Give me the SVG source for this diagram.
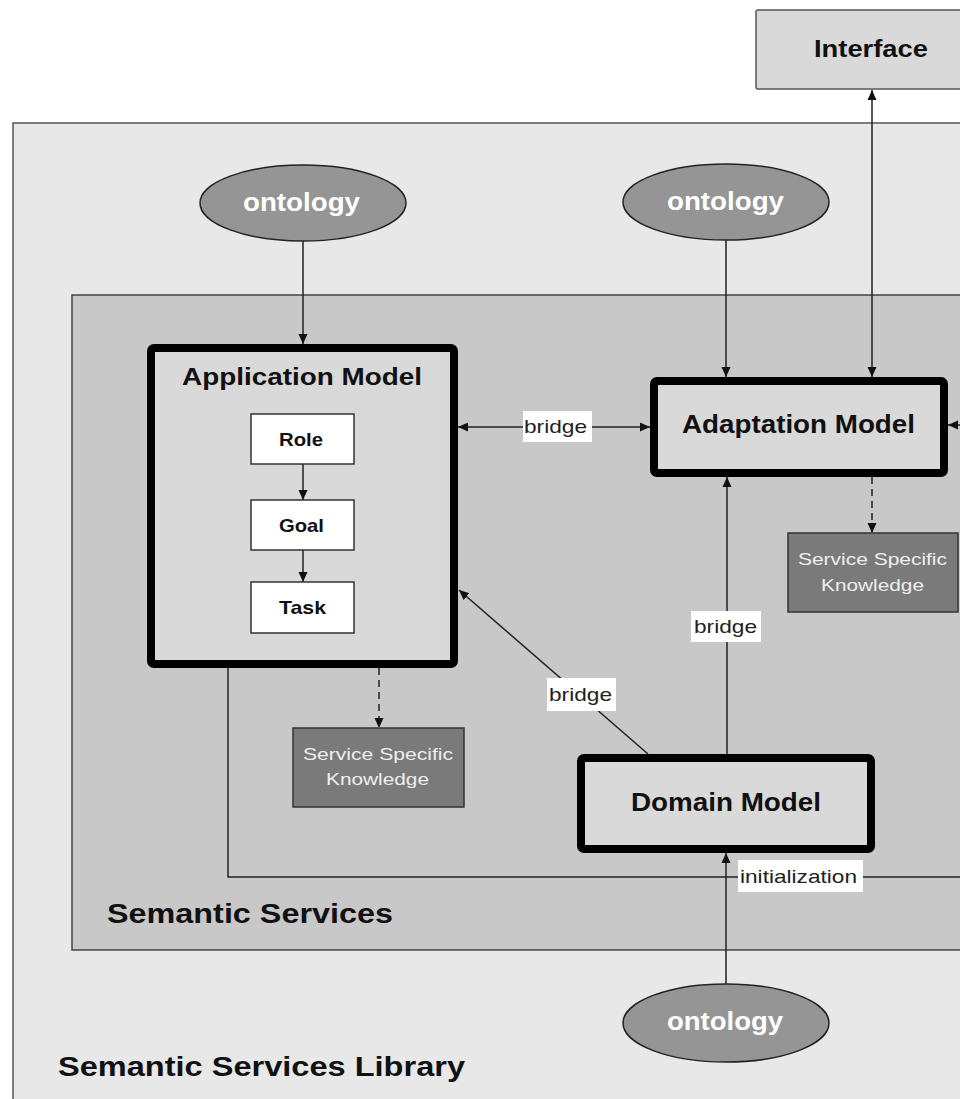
<svg xmlns="http://www.w3.org/2000/svg" width="960" height="1099" viewBox="0 0 960 1099">
<style>
.bold{font-family:"Liberation Sans",Arial,sans-serif;font-weight:bold;fill:#111}
.onto{font-family:"Liberation Sans",Arial,sans-serif;font-weight:bold;fill:#fff;font-size:25px}
.lbl{font-family:"Liberation Sans",Arial,sans-serif;font-size:19px;fill:#222}
.ssk{font-family:"Liberation Sans",Arial,sans-serif;font-size:17px;fill:#eee}
.model{fill:#d9d9d9;stroke:#000;stroke-width:8}
.small{fill:#fff;stroke:#333;stroke-width:1.5}
.ell{fill:#959595;stroke:#222;stroke-width:1.5}
.sskbox{fill:#7a7a7a;stroke:#333;stroke-width:1.5}
.line{fill:none;stroke:#222;stroke-width:1.5}
.dash{fill:none;stroke:#222;stroke-width:1.5;stroke-dasharray:7,5}
.lblbg{fill:#fff}
</style>
<defs>
<marker id="ah" markerUnits="userSpaceOnUse" markerWidth="10" markerHeight="10" refX="10" refY="5" orient="auto-start-reverse">
<path d="M0,0.5 L10,5 L0,9.5 z" fill="#111"/>
</marker>
</defs>
<rect width="960" height="1099" fill="#fff"/>
<g id="library">
<rect x="13" y="123" width="1000" height="1000" fill="#e8e8e8" stroke="#555" stroke-width="1.5"/>
<text class="bold" x="58" y="1076" font-size="28" textLength="407" lengthAdjust="spacingAndGlyphs">Semantic Services Library</text>
</g>
<g id="interface">
<rect x="756" y="10" width="220" height="79" fill="#d9d9d9" stroke="#555" stroke-width="1.5" rx="2"/>
<text class="bold" x="814" y="57" font-size="24" textLength="114" lengthAdjust="spacingAndGlyphs">Interface</text>
</g>
<g id="services">
<rect x="72" y="295" width="1000" height="655" fill="#c8c8c8" stroke="#444" stroke-width="1.5"/>
<text class="bold" x="107" y="923" font-size="27" textLength="286" lengthAdjust="spacingAndGlyphs">Semantic Services</text>
</g>
<g id="connectors">
<path class="line" d="M303,241 V344" marker-end="url(#ah)"/>
<path class="line" d="M726,240 V377" marker-end="url(#ah)"/>
<path class="line" d="M872,90 V377" marker-start="url(#ah)" marker-end="url(#ah)"/>
<path class="line" d="M458,427 H650" marker-start="url(#ah)" marker-end="url(#ah)"/>
<path class="line" d="M727,754 V477" marker-end="url(#ah)"/>
<path class="line" d="M648,754 L459,590" marker-end="url(#ah)"/>
<path class="line" d="M726,984 V853" marker-end="url(#ah)"/>
<path class="line" d="M228,668 V877 H985 V425 H948" marker-end="url(#ah)"/>
<path class="dash" d="M872,477 V533" marker-end="url(#ah)"/>
<path class="dash" d="M379,668 V728" marker-end="url(#ah)"/>
<rect class="lblbg" x="523" y="411" width="69" height="31"/>
<text class="lbl" x="524" y="433" textLength="63" lengthAdjust="spacingAndGlyphs">bridge</text>
<rect class="lblbg" x="691" y="611" width="70" height="31"/>
<text class="lbl" x="694" y="633" textLength="63" lengthAdjust="spacingAndGlyphs">bridge</text>
<rect class="lblbg" x="547" y="678" width="69" height="33"/>
<text class="lbl" x="549" y="701" textLength="63" lengthAdjust="spacingAndGlyphs">bridge</text>
<rect class="lblbg" x="738" y="860" width="125" height="32"/>
<text class="lbl" x="740" y="883" textLength="117" lengthAdjust="spacingAndGlyphs">initialization</text>
</g>
<g id="ontology1">
<ellipse class="ell" cx="303" cy="203" rx="103" ry="38"/>
<text class="onto" x="243" y="211" textLength="117" lengthAdjust="spacingAndGlyphs">ontology</text>
</g>
<g id="ontology2">
<ellipse class="ell" cx="726" cy="202" rx="103" ry="38"/>
<text class="onto" x="667" y="210" textLength="117" lengthAdjust="spacingAndGlyphs">ontology</text>
</g>
<g id="ontology3">
<ellipse class="ell" cx="726" cy="1023" rx="103" ry="39"/>
<text class="onto" x="667" y="1030" textLength="116" lengthAdjust="spacingAndGlyphs">ontology</text>
</g>
<g id="application-model">
<rect class="model" x="151" y="348" width="303" height="316" rx="3"/>
<text class="bold" x="182" y="385" font-size="24" textLength="240" lengthAdjust="spacingAndGlyphs">Application Model</text>
</g>
<g id="inner-connectors">
<path class="line" d="M303,464 V500" marker-end="url(#ah)"/>
<path class="line" d="M303,550 V582" marker-end="url(#ah)"/>
</g>
<g id="role">
<rect class="small" x="251" y="414" width="103" height="50"/>
<text class="bold" x="279" y="446" font-size="19" textLength="44" lengthAdjust="spacingAndGlyphs">Role</text>
</g>
<g id="goal">
<rect class="small" x="251" y="500" width="103" height="50"/>
<text class="bold" x="279" y="532" font-size="19" textLength="45" lengthAdjust="spacingAndGlyphs">Goal</text>
</g>
<g id="task">
<rect class="small" x="251" y="582" width="103" height="51"/>
<text class="bold" x="279" y="614" font-size="19" textLength="47" lengthAdjust="spacingAndGlyphs">Task</text>
</g>
<g id="adaptation-model">
<rect class="model" x="654" y="381" width="290" height="92" rx="3"/>
<text class="bold" x="682" y="433" font-size="25" textLength="233" lengthAdjust="spacingAndGlyphs">Adaptation Model</text>
</g>
<g id="domain-model">
<rect class="model" x="581" y="758" width="290" height="91" rx="3"/>
<text class="bold" x="631" y="811" font-size="25" textLength="190" lengthAdjust="spacingAndGlyphs">Domain Model</text>
</g>
<g id="ssk-left">
<rect class="sskbox" x="293" y="728" width="171" height="79"/>
<text class="ssk" x="303" y="760" textLength="150" lengthAdjust="spacingAndGlyphs">Service Specific</text>
<text class="ssk" x="326" y="785" textLength="103" lengthAdjust="spacingAndGlyphs">Knowledge</text>
</g>
<g id="ssk-right">
<rect class="sskbox" x="788" y="533" width="170" height="79"/>
<text class="ssk" x="798" y="565" textLength="149" lengthAdjust="spacingAndGlyphs">Service Specific</text>
<text class="ssk" x="821" y="591" textLength="103" lengthAdjust="spacingAndGlyphs">Knowledge</text>
</g>
</svg>
